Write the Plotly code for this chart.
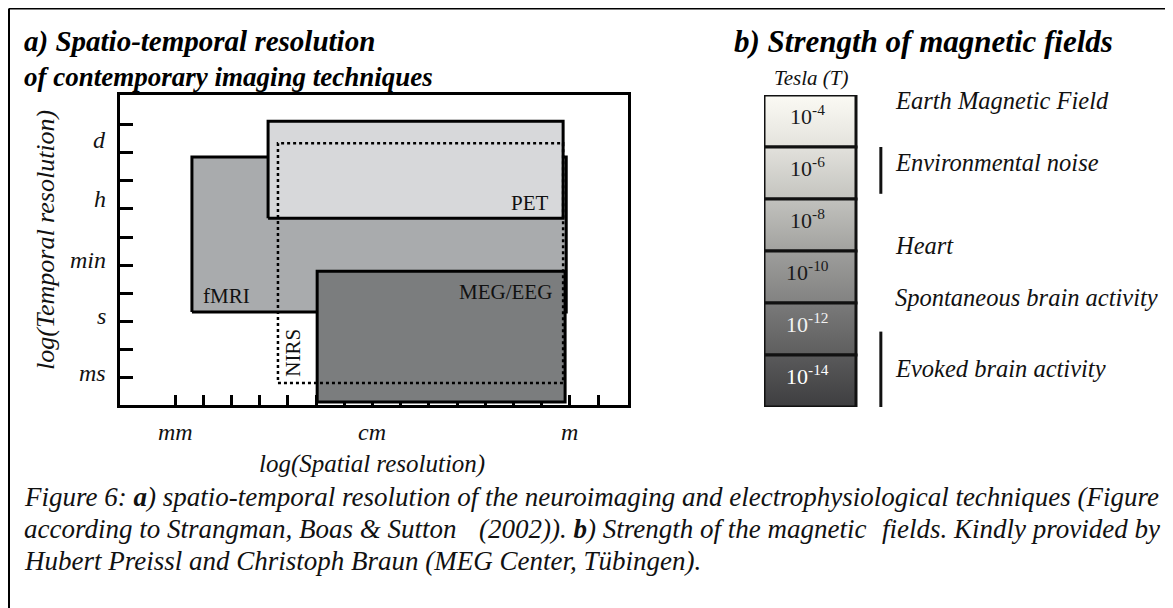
import plotly.graph_objects as go

# the page body adds an 8 px margin, so the figure is a bit smaller and shifted
OX, OY = 8, 8
W, H = 1165, 600
FONT = "Liberation Serif"

# %% Data: panel a (log spatial / log temporal units, one unit per tick)
techniques = ["fMRI", "PET", "MEG/EEG", "NIRS"]
space_lo = [0.60, 3.30, 5.04, 3.65]
space_hi = [13.87, 13.76, 13.83, 13.76]
time_lo = [2.34, 5.67, -0.85, -0.18]
time_hi = [7.84, 9.11, 3.79, 8.33]
tech_fill = ["#a9abad", "#d7d8da", "#7b7d7e", None]
label_x = [1.84, 12.59, 11.70, 4.18]
label_y = [2.91, 6.21, 3.05, 0.89]

x_ticks = list(range(16))
y_ticks = list(range(10))
time_labels = ["d", "h", "min", "s", "ms"]
time_label_pos = [8.44, 6.35, 4.18, 2.20, 0.18]
space_labels = ["mm", "cm", "m"]
space_label_pos = [0, 7, 14]

# %% Data: panel b (exponent of Tesla)
exponents = [-4, -6, -8, -10, -12, -14]
cell_top_color = ["#fbfaf4", "#e2e1dc", "#c2c2be", "#9e9e9c", "#7a7a7a", "#5a5a5b"]
cell_bot_color = ["#e4e3dd", "#c4c4bf", "#a2a29f", "#828281", "#5e5e5e", "#3e3e40"]
cell_text_color = ["#1a1a1a", "#1a1a1a", "#1a1a1a", "#1a1a1a", "#f2f2f2", "#ffffff"]
sources = ["Earth Magnetic Field", "Environmental noise", "Heart",
           "Spontaneous brain activity", "Evoked brain activity"]
source_pos = [-3.2, -5.6, -8.8, -10.8, -13.5]
bar_ranges = [(-5.0, -6.8), (-12.1, -15.0)]


def px(x):
    return (x - OX) / W


def py(y):
    return 1 - (y - OY) / H


def note(text, x, y, size, xanchor="center", angle=0, color="#111"):
    fig.add_annotation(x=px(x), y=py(y), xref="paper", yref="paper", text=text,
                       xanchor=xanchor, yanchor="middle", textangle=angle,
                       showarrow=False, font=dict(family=FONT, size=size, color=color))


fig = go.Figure()

# %% Panel a rectangles
for name, x0, x1, y0, y1, fc in zip(techniques, space_lo, space_hi, time_lo, time_hi, tech_fill):
    xs = [x0, x1, x1, x0, x0]
    ys = [y0, y0, y1, y1, y0]
    if fc is None:
        fig.add_trace(go.Scatter(x=xs, y=ys, mode="lines", name=name,
                                 line=dict(color="black", width=2.5, dash="dot"),
                                 hoverinfo="skip"))
    else:
        fig.add_trace(go.Scatter(x=xs, y=ys, mode="lines", name=name, fill="toself",
                                 fillcolor=fc, line=dict(color="black", width=3),
                                 hoverinfo="skip"))

for name, lx, ly in zip(techniques, label_x, label_y):
    fig.add_annotation(x=lx, y=ly, xref="x", yref="y", text=name, showarrow=False,
                       xanchor="center", yanchor="middle",
                       textangle=-90 if name == "NIRS" else 0,
                       font=dict(family=FONT, size=21, color="#111"))

for lab, pos in zip(time_labels, time_label_pos):
    fig.add_annotation(x=px(108), y=pos, xref="paper", yref="y", text=f"<i>{lab}</i>",
                       xanchor="right", yanchor="middle", showarrow=False,
                       font=dict(family=FONT, size=24, color="#111"))

for lab, pos in zip(space_labels, space_label_pos):
    fig.add_annotation(x=pos, y=py(432), xref="x", yref="paper", text=f"<i>{lab}</i>",
                       xanchor="center", yanchor="middle", showarrow=False,
                       font=dict(family=FONT, size=24, color="#111"))

# %% Panel b cells
for e, ct, cb, tc in zip(exponents, cell_top_color, cell_bot_color, cell_text_color):
    top, bot = e + 1, e - 1
    fig.add_trace(go.Scatter(x=[0, 1, 1, 0, 0], y=[bot, bot, top, top, bot],
                             xaxis="x2", yaxis="y2", mode="lines", fill="toself",
                             fillgradient=dict(type="vertical", start=bot, stop=top,
                                               colorscale=[[0, cb], [1, ct]]),
                             line=dict(color="#111", width=3), hoverinfo="skip"))
    fig.add_annotation(x=0.47, y=e + 0.25, xref="x2", yref="y2",
                       text=f"10<sup>{e}</sup>", showarrow=False,
                       xanchor="center", yanchor="middle",
                       font=dict(family=FONT, size=22, color=tc))

for b0, b1 in bar_ranges:
    fig.add_trace(go.Scatter(x=[1.27, 1.27], y=[b0, b1], xaxis="x2", yaxis="y2",
                             mode="lines", line=dict(color="#111", width=3),
                             hoverinfo="skip"))

for s, pos in zip(sources, source_pos):
    fig.add_annotation(x=1.40, y=pos, xref="x2", yref="y2", text=f"<i>{s}</i>",
                       xanchor="left", yanchor="middle", showarrow=False,
                       font=dict(family=FONT, size=24.5, color="#111"))

fig.add_annotation(x=0.52, y=py(78), xref="x2", yref="paper", text="<i>Tesla (T)</i>",
                   xanchor="center", yanchor="middle", showarrow=False,
                   font=dict(family=FONT, size=21, color="#111"))

# %% Titles, axis titles and caption
note("<b><i>a) Spatio-temporal resolution</i></b>", 22, 42, 29, xanchor="left", color="#000")
note("<b><i>of contemporary imaging techniques</i></b>", 22, 77, 27, xanchor="left", color="#000")
note("<b><i>b) Strength of magnetic fields</i></b>", 732, 42, 31, xanchor="left", color="#000")

note("<i>log(Temporal resolution)</i>", 45, 240, 26, angle=-90)
note("<i>log(Spatial resolution)</i>", 372, 464, 25)

# caption, roughly justified by splitting the second line in three pieces
note("<i>Figure 6: <b>a</b>) spatio-temporal resolution of the neuroimaging and "
     "electrophysiological techniques (Figure</i>", 22, 497, 27, xanchor="left")
note("<i>according to Strangman, Boas &amp; Sutton</i>", 22, 529, 27, xanchor="left")
note("<i>(2002)). <b>b</b>) Strength of the magnetic</i>", 477, 529, 27, xanchor="left")
note("<i>fields. Kindly provided by</i>", 1162, 529, 27, xanchor="right")
note("<i>Hubert Preissl and Christoph Braun (MEG Center, Tübingen).</i>",
     22, 561, 27, xanchor="left")

# outer frame (open to the right and bottom)
fig.add_shape(type="line", xref="paper", yref="paper", x0=px(9), x1=px(9), y0=0, y1=py(8.5),
              line=dict(color="black", width=2))
fig.add_shape(type="line", xref="paper", yref="paper", x0=px(9), x1=1, y0=py(8.5), y1=py(8.5),
              line=dict(color="black", width=2))

axis_common = dict(showgrid=False, zeroline=False, showticklabels=False,
                   showline=True, linecolor="black", linewidth=3, mirror=True,
                   ticks="inside", tickcolor="black", tickwidth=3, layer="below traces")

fig.update_layout(
    width=W, height=H,
    margin=dict(l=0, r=0, t=0, b=0),
    paper_bgcolor="white", plot_bgcolor="white",
    showlegend=False,
    xaxis=dict(domain=[px(120), px(628)], range=[-1.95, 16.06], tickvals=x_ticks,
               ticklen=10, **axis_common),
    yaxis=dict(domain=[py(405), py(95)], range=[-0.96, 10.04], tickvals=y_ticks,
               ticklen=13, **axis_common),
    xaxis2=dict(domain=[px(764), 1], range=[0, (1173 - 764) / 92], visible=False),
    yaxis2=dict(domain=[py(407), py(95)], range=[-15, -3], visible=False),
)

fig.write_html("out.html")
